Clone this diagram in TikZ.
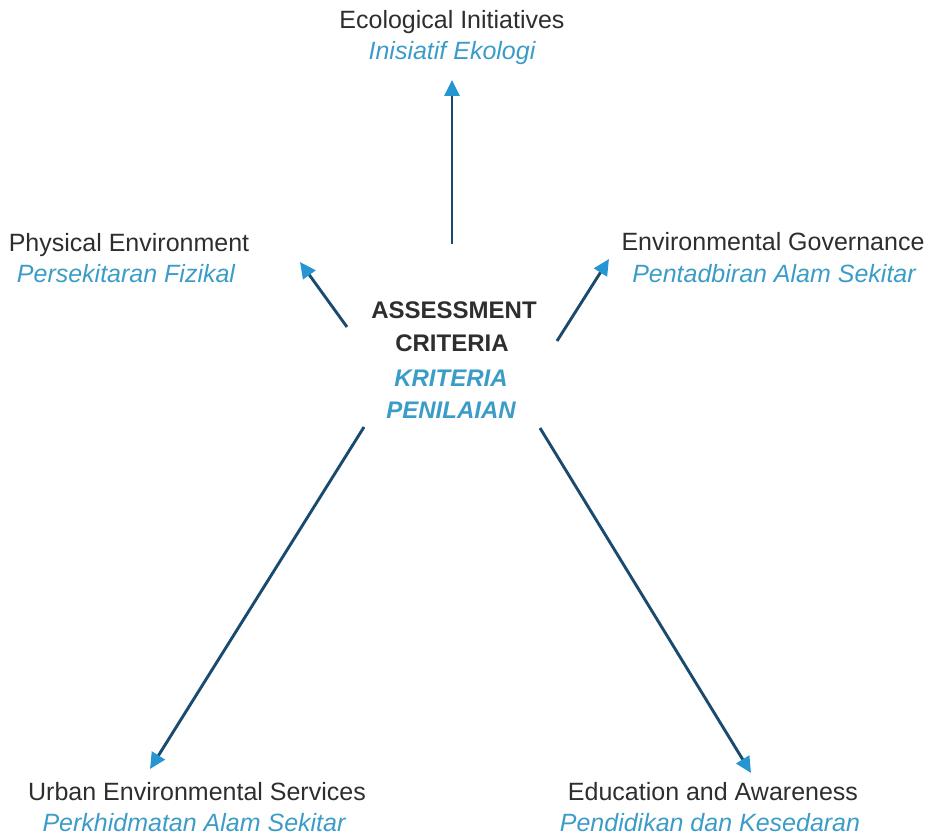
\documentclass[tikz,border=0pt]{standalone}
\usepackage{fontspec}
\setmainfont{Liberation Sans}
\usetikzlibrary{arrows.meta}
\definecolor{txtgray}{HTML}{2E2E2E}
\definecolor{itblue}{HTML}{3C9CC8}
\definecolor{linecol}{HTML}{1A4A6E}
\definecolor{tipcol}{HTML}{2696D2}
\tikzset{
  en/.style={anchor=base, inner sep=0pt, text=txtgray, font=\fontsize{25}{30}\selectfont},
  ms/.style={anchor=base, inner sep=0pt, text=itblue, font=\fontsize{25}{30}\selectfont\itshape},
  hd/.style={anchor=base, inner sep=0pt, text=txtgray, font=\fontsize{24}{28}\selectfont\bfseries},
  hdb/.style={anchor=base, inner sep=0pt, text=itblue, font=\fontsize{24}{28}\selectfont\bfseries\itshape},
  conn/.style={draw=linecol, line width=2.9pt, -{Triangle[length=16pt,width=15pt,color=tipcol,fill=tipcol]}},
}
\begin{document}
\begin{tikzpicture}[x=1pt,y=-1pt]
\useasboundingbox (0,0) rectangle (938,837);
% centre
\node[hd]  (c1) at (454,319) {ASSESSMENT};
\node[hd]  (c2) at (452,352) {CRITERIA};
\node[hdb] (c3) at (451,386) {KRITERIA};
\node[hdb] (c4) at (451,418) {PENILAIAN};
% labels
\node[en] (eco1) at (452,29) {Ecological Initiatives};
\node[ms] (eco2) at (452,60) {Inisiatif Ekologi};
\node[en] (phy1) at (129,252) {Physical Environment};
\node[ms] (phy2) at (126,283) {Persekitaran Fizikal};
\node[en] (gov1) at (773,251) {Environmental Governance};
\node[ms] (gov2) at (774,283) {Pentadbiran Alam Sekitar};
\node[en] (urb1) at (197,800) {Urban Environmental Services};
\node[ms] (urb2) at (194,831) {Perkhidmatan Alam Sekitar};
\node[en] (edu1) at (713,800) {Education and Awareness};
\node[ms] (edu2) at (710,831) {Pendidikan dan Kesedaran};
% connector ends
\coordinate (s-eco) at (452,244);
\coordinate (e-eco) at (452,80);
\coordinate (s-phy) at (347,327);
\coordinate (e-phy) at (300,262);
\coordinate (s-gov) at (557,341);
\coordinate (e-gov) at (609,259);
\coordinate (s-urb) at (364,427);
\coordinate (e-urb) at (150,769);
\coordinate (s-edu) at (540,428);
\coordinate (e-edu) at (751,773);
\draw[conn] (s-eco) -- (e-eco);
\draw[conn] (s-phy) -- (e-phy);
\draw[conn] (s-gov) -- (e-gov);
\draw[conn] (s-urb) -- (e-urb);
\draw[conn] (s-edu) -- (e-edu);
\end{tikzpicture}
\end{document}
